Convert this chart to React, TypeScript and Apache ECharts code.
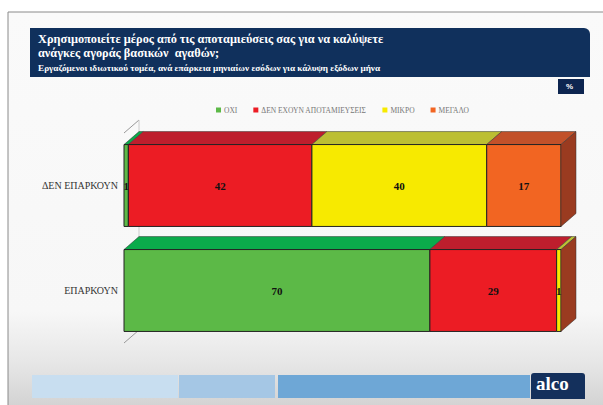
import React, { useEffect, useRef } from "react";
import * as echarts from "echarts";

const categories = ["ΔΕΝ ΕΠΑΡΚΟΥΝ", "ΕΠΑΡΚΟΥΝ"];
const seriesNames = ["ΟΧΙ", "ΔΕΝ ΕΧΟΥΝ ΑΠΟΤΑΜΙΕΥΣΕΙΣ", "ΜΙΚΡΟ", "ΜΕΓΑΛΟ"];
const oxi = [1, 70];
const denEchoun = [42, 29];
const mikro = [40, 1];
const megalo = [17, 0];

const frontColors = ["#5cb947", "#ec1c24", "#f7ea00", "#f26522"];
const topColors = ["#0bab4b", "#be1e2d", "#bcbf33", "#c2512a"];
const sideColor = "#9a3b20";

export default function App() {
  const ref = useRef<HTMLDivElement>(null);
  useEffect(() => {
    if (!ref.current) return;
    const chart = echarts.init(ref.current, null, { renderer: "svg" });
    const all = [oxi, denEchoun, mikro, megalo];
    const starts = categories.map(() => 0);
    const series = all.map((vals, si) => {
      const data = vals.map((v, ci) => {
        const s = starts[ci];
        starts[ci] += v;
        return [ci, s, s + v, v];
      });
      return {
        type: "custom",
        name: seriesNames[si],
        itemStyle: { color: frontColors[si] },
        data,
        encode: { x: [1, 2], y: 0 },
        renderItem: (params: any, api: any) => {
          const cat = api.value(0);
          const st = api.value(1);
          const en = api.value(2);
          const val = api.value(3);
          if (!val) return null;
          const p0 = api.coord([st, cat]);
          const p1 = api.coord([en, cat]);
          const h = api.size([0, 1])[1] * 0.78;
          const x0 = p0[0];
          const x1 = p1[0];
          const top = p0[1] - h / 2;
          const bot = p0[1] + h / 2;
          const dx = 15;
          const dy = 13;
          const children: any[] = [
            {
              type: "polygon",
              shape: { points: [[x0, top], [x0 + dx, top - dy], [x1 + dx, top - dy], [x1, top]] },
              style: { fill: topColors[si], stroke: "#333", lineWidth: 0.5 },
            },
            {
              type: "rect",
              shape: { x: x0, y: top, width: x1 - x0, height: h },
              style: { fill: frontColors[si], stroke: "#222", lineWidth: 1 },
            },
          ];
          if (en >= 99.999) {
            children.push({
              type: "polygon",
              shape: { points: [[x1, top], [x1 + dx, top - dy], [x1 + dx, bot - dy], [x1, bot]] },
              style: { fill: sideColor, stroke: "#333", lineWidth: 0.5 },
            });
          }
          children.push({
            type: "text",
            style: {
              text: String(val),
              x: (x0 + x1) / 2,
              y: (top + bot) / 2,
              align: "center",
              verticalAlign: "middle",
              fill: "#111",
              font: "bold 11px 'Liberation Serif'",
            },
          });
          return { type: "group", children };
        },
      };
    });

    const option: any = {
      animation: false,
      grid: { left: 124, right: 42, top: 133, bottom: 62 },
      legend: {
        data: seriesNames,
        left: 211,
        top: 101,
        icon: "rect",
        itemWidth: 5,
        itemHeight: 5,
        itemGap: 16,
        textStyle: { fontSize: 7.5, color: "#777", fontFamily: "Liberation Serif", padding: [0, 0, 0, -2] },
      },
      xAxis: {
        type: "value",
        min: 0,
        max: 100,
        show: false,
      },
      yAxis: {
        type: "category",
        data: categories,
        inverse: true,
        axisLine: { show: false },
        axisTick: { show: false },
        splitLine: { show: false },
        axisLabel: { fontSize: 10, color: "#333", fontFamily: "Liberation Serif", margin: 6 },
      },
      graphic: [
        {
          type: "rect",
          z: -10,
          shape: { x: 8, y: 12, width: 600, height: 400 },
          style: {
            fill: {
              type: "linear", x: 0, y: 0, x2: 0, y2: 1,
              colorStops: [
                { offset: 0, color: "#fafafa" },
                { offset: 0.75, color: "#f7f7f7" },
                { offset: 0.88, color: "#e6e6e6" },
                { offset: 1, color: "#d0d0d0" },
              ],
            },
            stroke: "#8a8a8a",
            lineWidth: 1,
          },
        },
        {
          type: "rect",
          z: -9,
          shape: { x: 30, y: 28, width: 560, height: 49, r: [0, 6, 0, 0] },
          style: { fill: "#10305c" },
        },
        {
          type: "text",
          left: 38, top: 33,
          style: { text: "Χρησιμοποιείτε μέρος από τις αποταμιεύσεις σας για να καλύψετε", fill: "#fff", font: "bold 12.3px 'Liberation Serif'" },
        },
        {
          type: "text",
          left: 38, top: 47,
          style: { text: "ανάγκες αγοράς βασικών  αγαθών;", fill: "#fff", font: "bold 12.3px 'Liberation Serif'" },
        },
        {
          type: "text",
          left: 38, top: 63,
          style: { text: "Εργαζόμενοι ιδιωτικού τομέα, ανά επάρκεια μηνιαίων εσόδων για κάλυψη εξόδων μήνα", fill: "#fff", font: "bold 9.2px 'Liberation Serif'" },
        },
        {
          type: "rect",
          shape: { x: 558, y: 79, width: 26, height: 15 },
          style: { fill: "#0d2550" },
        },
        {
          type: "text",
          left: 566, top: 82,
          style: { text: "%", fill: "#fff", font: "bold 8px 'Liberation Sans'" },
        },
        {
          type: "line", z: -5,
          shape: { x1: 124, y1: 133, x2: 139, y2: 120 },
          style: { stroke: "#999", lineWidth: 1 },
        },
        {
          type: "line", z: -5,
          shape: { x1: 124, y1: 343, x2: 139, y2: 330 },
          style: { stroke: "#999", lineWidth: 1 },
        },
        {
          type: "line", z: -5,
          shape: { x1: 139, y1: 120, x2: 139, y2: 330 },
          style: { stroke: "#ccc", lineWidth: 1 },
        },
        {
          type: "rect",
          shape: { x: 32, y: 375, width: 146, height: 23 },
          style: { fill: "#c8def0" },
        },
        {
          type: "rect",
          shape: { x: 179, y: 375, width: 96, height: 23 },
          style: { fill: "#a5c7e5" },
        },
        {
          type: "rect",
          shape: { x: 278, y: 375, width: 252, height: 23 },
          style: { fill: "#6ea7d6" },
        },
        {
          type: "rect",
          shape: { x: 531, y: 373, width: 54, height: 26, r: [3, 3, 0, 0] },
          style: { fill: "#14305c" },
        },
        {
          type: "text",
          left: 536, top: 374,
          style: { text: "alco", fill: "#fff", font: "bold 19px 'Liberation Serif'" },
        },
      ],
      series,
    };
    chart.setOption(option);
    return () => chart.dispose();
  }, []);
  return (
    <div
      ref={ref}
      style={{ position: "fixed", left: 0, top: 0, width: 603, height: 405, background: "#fff" }}
    />
  );
}
